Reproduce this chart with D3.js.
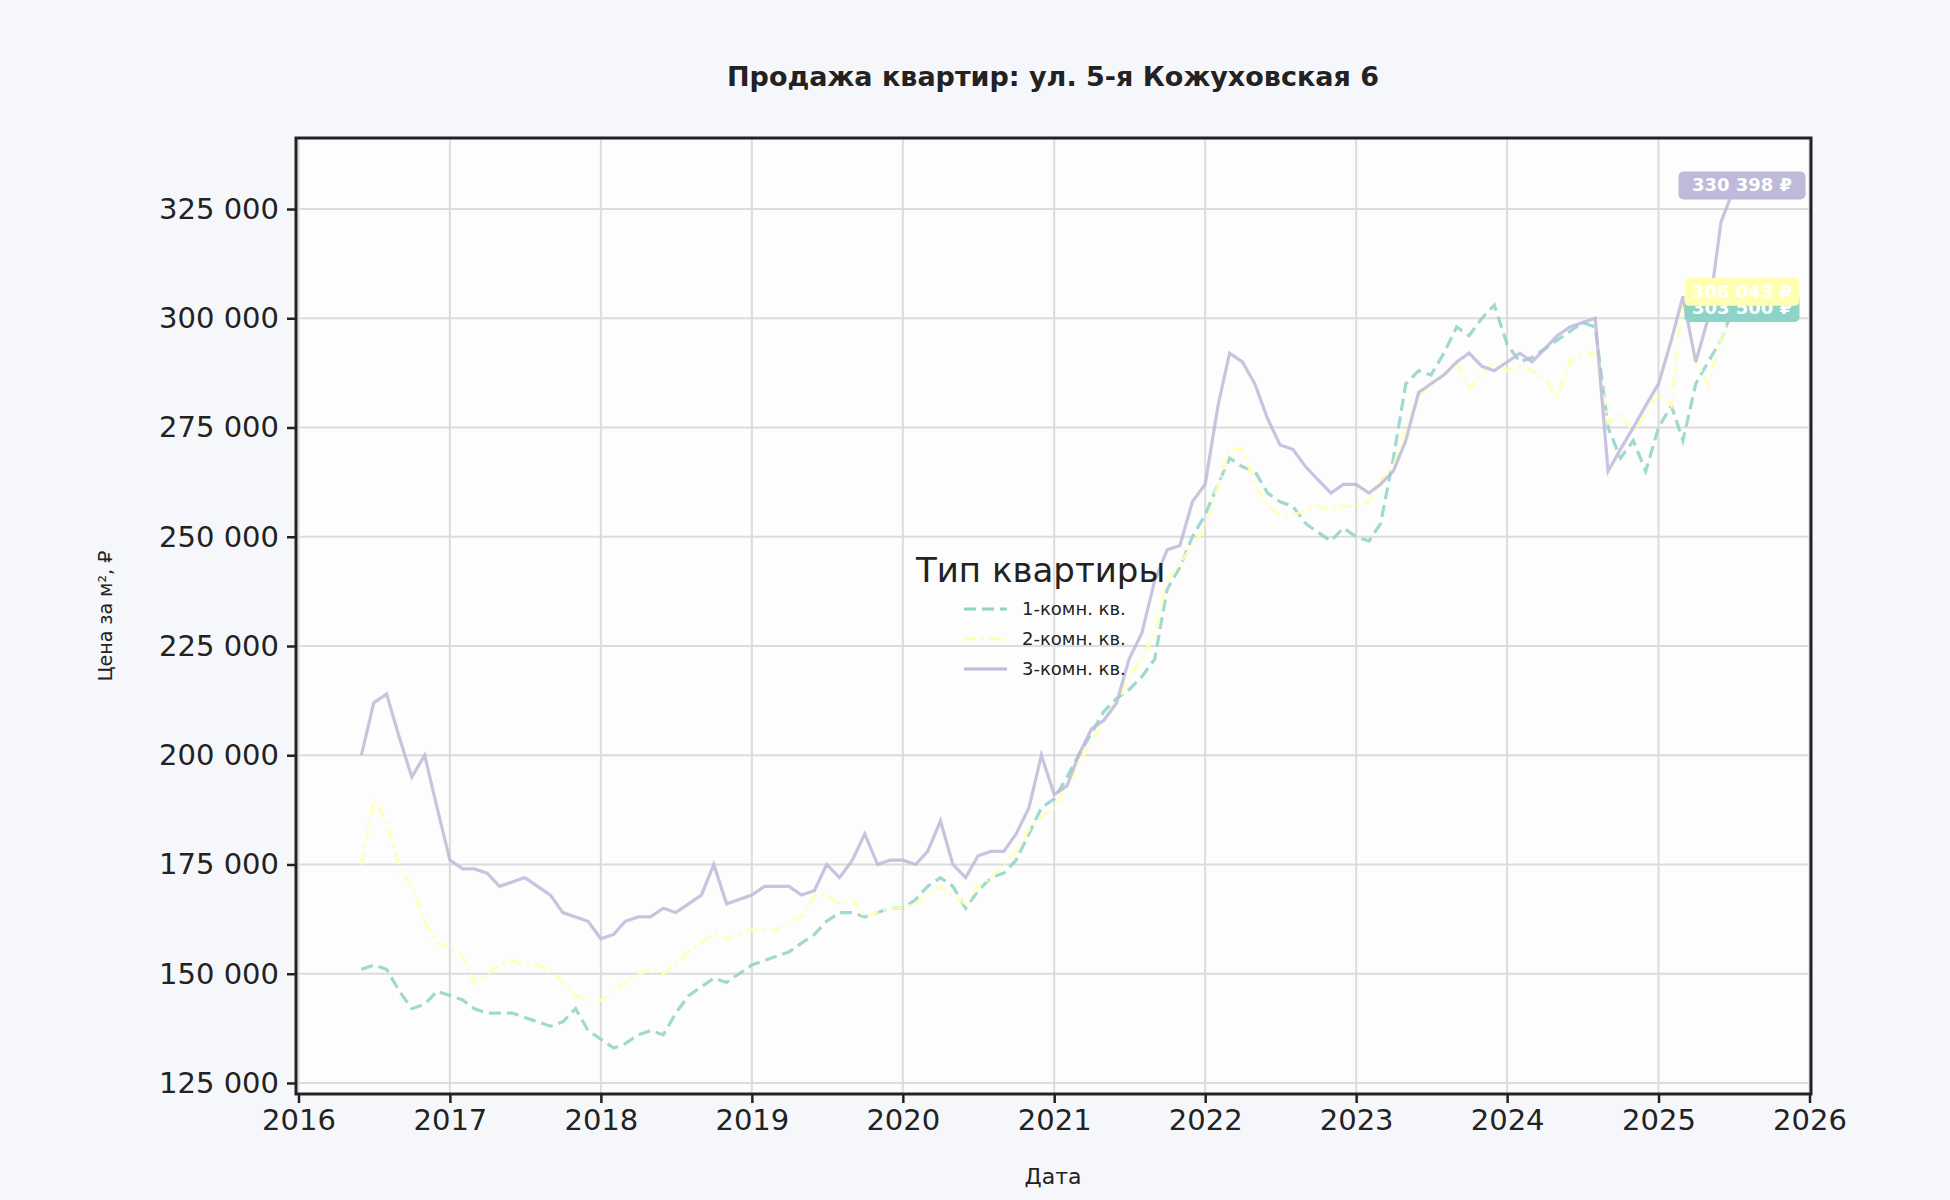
<!DOCTYPE html><html><head><meta charset="utf-8">
<script src="https://cdn.jsdelivr.net/npm/d3@7"></script>
<style>body{margin:0;background:#f6f7fb}svg{font-family:"DejaVu Sans",sans-serif}</style></head><body>
<svg id="c" width="1950" height="1200"></svg>
<script>
const startMonth = "2016-06";
const series1 = [151,152,151,146,142,143,146, 145,144,142,141,141,141,140,139,138,139,142,137, 135,133,134,136,137,136,141,145,147,149,148,150, 152,153,154,155,157,159,162,164,164,163,164,165, 165,167,170,172,170,165,169,172,173,176,182,188, 190,195,200,205,210,213,215,218,222,238,243,250, 255,262,268,266,265,260,258,257,253,251,249,252, 250,249,253,268,285,288,287,292,298,296,300,303, 294,290,291,293,295,297,299,298,275,268,272,265, 275,280,272,285,290,295,303.5];
const series2 = [175,190,185,174,170,162,157, 156,154,148,150,152,153,152,152,151,148,145,144, 144,146,148,150,151,150,152,155,157,159,158,159, 160,160,160,162,163,168,168,166,167,163,164,165, 165,166,168,170,168,166,170,172,175,178,183,186, 188,193,198,203,208,212,218,222,228,240,244,248, 252,262,270,270,262,257,255,255,256,257,256,257, 257,258,263,266,275,282,285,287,290,284,287,290, 288,289,288,286,282,290,292,292,276,278,274,278, 283,280,305,290,285,295,306.043];
const series3 = [200,212,214,204,195,200,188, 176,174,174,173,170,171,172,170,168,164,163,162, 158,159,162,163,163,165,164,166,168,175,166,167, 168,170,170,170,168,169,175,172,176,182,175,176, 176,175,178,185,175,172,177,178,178,182,188,200, 191,193,200,206,208,212,222,228,240,247,248,258, 262,280,292,290,285,277,271,270,266,263,260,262, 262,260,262,265,272,283,285,287,290,292,289,288, 290,292,290,293,296,298,299,300,265,270,275,280, 285,295,305,290,300,322,330.398];
const names = ["1-комн. кв.","2-комн. кв.","3-комн. кв."];
const yTicks = [125000,150000,175000,200000,225000,250000,275000,300000,325000];
const xTickYears = [2016,2017,2018,2019,2020,2021,2022,2023,2024,2025,2026];

const svg = d3.select("#c");
const L=296,R=1811,T=138,B=1094;
const x = d3.scaleTime().domain([new Date(2016,0,1),new Date(2026,0,1)]).range([298.5,1809.5]);
const y = d3.scaleLinear().domain([122480,341250]).range([B,T]);
const colors=["#8dd3c7","#ffffb3","#bebada"];
const dashes=["12,6","12,5,3,5",null];
const base=d3.timeParse("%Y-%m")(startMonth);
const data=[series1,series2,series3].map(s=>s.map((v,i)=>({d:d3.timeMonth.offset(base,i),v:v*1000})));
data.forEach(s=>{s[s.length-1].d=new Date(2025,6,5);});

svg.append("rect").attr("x",L).attr("y",T).attr("width",R-L).attr("height",B-T).attr("fill","#fdfdfd");
const g=svg.append("g");
g.selectAll(".gx").data(xTickYears).join("line").attr("x1",d=>x(new Date(d,0,1))).attr("x2",d=>x(new Date(d,0,1))).attr("y1",T).attr("y2",B).attr("stroke","#dcdcdc").attr("stroke-width",2);
g.selectAll(".gy").data(yTicks).join("line").attr("x1",L).attr("x2",R).attr("y1",d=>y(d)).attr("y2",d=>y(d)).attr("stroke","#dcdcdc").attr("stroke-width",2);

const line=d3.line().x(d=>x(d.d)).y(d=>y(d.v));
data.forEach((s,i)=>{
  svg.append("path").datum(s).attr("d",line).attr("fill","none").attr("stroke",colors[i]).attr("stroke-width",3.2).attr("stroke-opacity",0.85).attr("stroke-dasharray",dashes[i]);
});

svg.append("rect").attr("x",L).attr("y",T).attr("width",R-L).attr("height",B-T).attr("fill","none").attr("stroke","#222").attr("stroke-width",3);

const fmt=v=>d3.format(",")(v).replace(/,/g," ");
const ya=svg.append("g").attr("transform",`translate(${L},0)`).call(d3.axisLeft(y).tickValues(yTicks).tickFormat(fmt).tickSize(9).tickPadding(8));
const xa=svg.append("g").attr("transform",`translate(0,${B})`).call(d3.axisBottom(x).tickValues(xTickYears.map(d=>new Date(d,0,1))).tickFormat(d3.timeFormat("%Y")).tickSize(9).tickPadding(6));
[ya,xa].forEach(a=>{a.select(".domain").remove();a.selectAll("line").attr("stroke","#222").attr("stroke-width",2.5);a.selectAll("text").attr("font-size",29).attr("fill","#222").attr("font-family","DejaVu Sans");});

svg.append("text").attr("x",1053).attr("y",86).attr("text-anchor","middle").attr("font-size",27).attr("font-weight","bold").attr("fill","#222").text("Продажа квартир: ул. 5-я Кожуховская 6");
svg.append("text").attr("x",1053).attr("y",1184).attr("text-anchor","middle").attr("font-size",22).attr("fill","#222").text("Дата");
svg.append("text").attr("transform","translate(112,616) rotate(-90)").attr("text-anchor","middle").attr("font-size",19).attr("fill","#222").text("Цена за м², ₽");

// legend
svg.append("text").attr("x",916).attr("y",582).attr("font-size",34).attr("fill","#222").text("Тип квартиры");
names.forEach((n,i)=>{
  const yy=609+i*30;
  svg.append("line").attr("x1",964).attr("x2",1007).attr("y1",yy).attr("y2",yy).attr("stroke",colors[i]).attr("stroke-width",3.2).attr("stroke-dasharray",dashes[i]);
  svg.append("text").attr("x",1022).attr("y",yy+6).attr("font-size",18).attr("fill","#222").text(n);
});

// end labels
const endLabels=[{i:0,dy:5},{i:2,dy:0},{i:1,dy:0}];
endLabels.forEach(({i,dy})=>{
  const last=data[i][data[i].length-1];
  const cy=y(last.v)+dy;
  const txt=fmt(Math.round(last.v))+" ₽";
  const w=i===2?127:115;
  const cx=i===2?1742:1742;
  svg.append("rect").attr("x",cx-w/2).attr("y",cy-14).attr("width",w).attr("height",28).attr("rx",5).attr("fill",colors[i]);
  svg.append("text").attr("x",cx).attr("y",cy+6).attr("text-anchor","middle").attr("font-size",18).attr("font-weight","bold").attr("fill","#fff").text(txt);
});
</script></body></html>
